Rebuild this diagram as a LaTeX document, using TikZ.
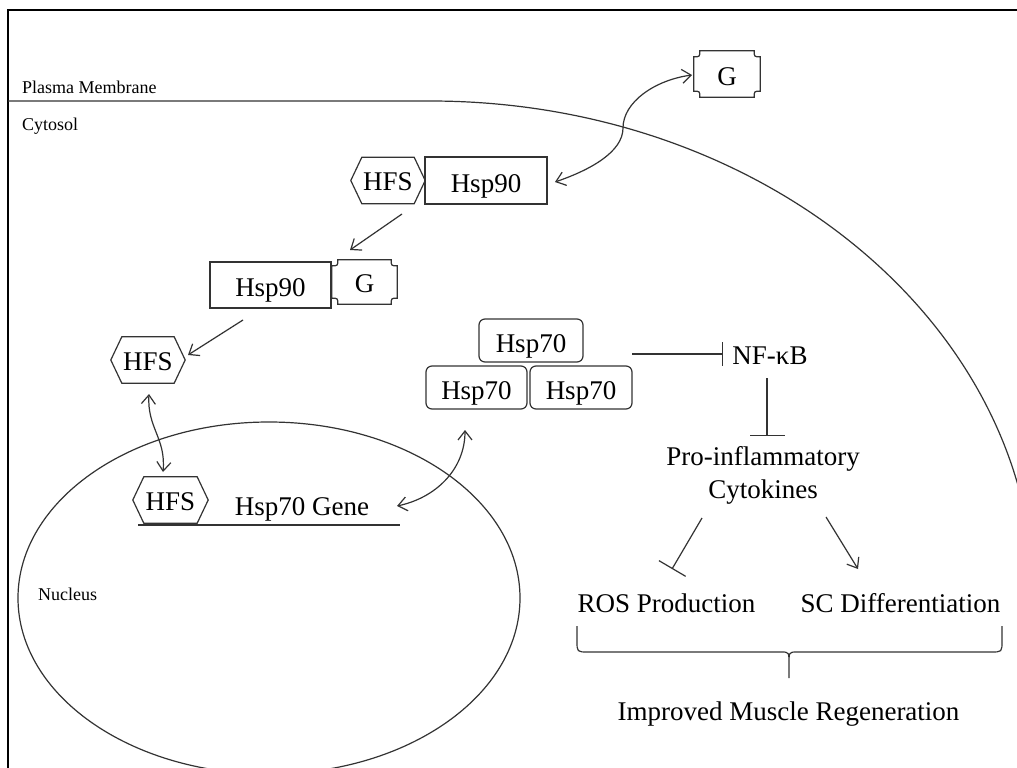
\documentclass[tikz,border=0pt]{standalone}
\usepackage{fontspec}
\setmainfont{Liberation Serif}
\usetikzlibrary{arrows.meta}
\tikzset{
  ln/.style={line width=1.2pt, draw=black!80},
  lbl/.style={font=\fontsize{27}{33}\selectfont, inner sep=0pt, text=black},
  smalllbl/.style={font=\fontsize{18}{20}\selectfont, inner sep=0pt, anchor=west, text=black},
  sqbox/.style={lbl, ln, draw, minimum width=#1, minimum height=47pt, text height=23pt, text depth=0pt},
  rndbox/.style={lbl, ln, draw, rounded corners=6pt, minimum width=#1, minimum height=43pt, text height=23pt, text depth=0pt},
  shapeonly/.style={lbl, text height=20pt, text depth=0pt},
  arr/.style={ln, -{Straight Barb[length=9pt,width=14pt,line width=1.2pt]}},
  darr/.style={ln, {Straight Barb[length=9pt,width=14pt,line width=1.2pt]}-{Straight Barb[length=9pt,width=14pt,line width=1.2pt]}},
  inh/.style={ln, -{Bar[width=#1,line width=1.2pt]}}
}
\newcommand\hexout[2]{%
  \draw[ln] (#1.west) -- ([xshift=#2]#1.north west) -- ([xshift=-#2]#1.north east)
    -- (#1.east) -- ([xshift=-#2]#1.south east) -- ([xshift=#2]#1.south west) -- cycle;}
\newcommand\concout[2]{%
  \draw[ln] ([xshift=#2]#1.north west) -- ([xshift=-#2]#1.north east)
    .. controls ([xshift=-#2,yshift=-#2]#1.north east) .. ([yshift=-#2]#1.north east)
    -- ([yshift=#2]#1.south east)
    .. controls ([xshift=-#2,yshift=#2]#1.south east) .. ([xshift=-#2]#1.south east)
    -- ([xshift=#2]#1.south west)
    .. controls ([xshift=#2,yshift=#2]#1.south west) .. ([yshift=#2]#1.south west)
    -- ([yshift=-#2]#1.north west)
    .. controls ([xshift=#2,yshift=-#2]#1.north west) .. ([xshift=#2]#1.north west) -- cycle;}
\begin{document}
\begin{tikzpicture}[x=1pt,y=-1pt]
\useasboundingbox (0,0) rectangle (1017,768);
\fill[white] (0,0) rectangle (1017,768);
% frame
\draw[line width=2.5pt, black] (8,768) -- (8,10) -- (1017,10);
% membrane and nucleus
\begin{scope}
  \clip (0,0) rectangle (1017,768);
  \draw[ln] (8,101) -- (430,101) .. controls (763.6,101) and (1034,324.4) .. (1034,600);
  \draw[ln] (269,598) ellipse [x radius=251, y radius=176];
\end{scope}
% small labels
\node[smalllbl] (pm) at (22,87) {Plasma Membrane};
\node[smalllbl] (cyt) at (22,126) {Cytosol};
\node[smalllbl] (nuc) at (38,594) {Nucleus};
% G outside
\node[shapeonly, minimum width=66pt, minimum height=46pt, text height=22pt] (gtop) at (727,74) {G};
\concout{gtop}{6pt}
% HFS + Hsp90
\node[sqbox=122pt] (h90a) at (486,180.5) {Hsp90};
\node[shapeonly, minimum width=74pt, minimum height=46pt] (hfs1) at (388,180.5) {HFS};
\hexout{hfs1}{11pt}
% Hsp90 + G
\node[sqbox=121pt, minimum height=46pt] (h90b) at (270.5,285) {Hsp90};
\node[shapeonly, minimum width=65pt, minimum height=44pt] (g2) at (364.5,282) {G};
\concout{g2}{6pt}
% HFS free
\node[shapeonly, minimum width=74pt, minimum height=46pt] (hfs2) at (148,360) {HFS};
\hexout{hfs2}{11pt}
% HFS on gene
\node[shapeonly, minimum width=75pt, minimum height=46pt] (hfs3) at (170.5,500) {HFS};
\hexout{hfs3}{11pt}
\node[lbl] (gene) at (302,509) {Hsp70 Gene};
\coordinate (gl1) at (138,525);
\coordinate (gl2) at (400,525);
\draw[ln] (gl1) -- (gl2);
% Hsp70 trimer
\node[rndbox=104pt] (h70t) at (531,340.5) {Hsp70};
\node[rndbox=101pt] (h70l) at (476.5,387.5) {Hsp70};
\node[rndbox=102pt] (h70r) at (581,387.5) {Hsp70};
% right side texts
\node[lbl] (nfkb) at (770,356) {NF-\char"03BA B};
\node[lbl, align=center] (pic) at (763,475) {Pro-inflammatory\\Cytokines};
\node[lbl] (ros) at (666.5,603) {ROS Production};
\node[lbl] (scd) at (900.5,603) {SC Differentiation};
\node[lbl] (imr) at (788.5,714) {Improved Muscle Regeneration};
% connector coordinates
\coordinate (a1s) at (402,214);
\coordinate (a1e) at (350,250);
\coordinate (a2s) at (243,320);
\coordinate (a2e) at (188,355);
\coordinate (c1a) at (555,182);
\coordinate (c1m) at (623,128);
\coordinate (c1b) at (692,75);
\coordinate (c2a) at (149,394);
\coordinate (c2b) at (163,472);
\coordinate (c3a) at (397,506);
\coordinate (c3b) at (465,430);
\coordinate (i1s) at (632,354);
\coordinate (i1e) at (723,354);
\coordinate (i2s) at (767,378);
\coordinate (i2e) at (767,436);
\coordinate (i3s) at (702,518);
\coordinate (i3e) at (672,569);
\coordinate (a3s) at (826,517);
\coordinate (a3e) at (858,569);
% connectors
\draw[arr] (a1s) -- (a1e);
\draw[arr] (a2s) -- (a2e);
\draw[darr] (c1a) .. controls (590,170) and (623,152) .. (c1m) .. controls (623,102) and (655,80) .. (c1b);
\draw[darr] (c2a) .. controls (147,428) and (166,438) .. (c2b);
\draw[darr] (c3a) .. controls (435,498) and (465,470) .. (c3b);
\draw[inh=24pt] (i1s) -- (i1e);
\draw[inh=35pt] (i2s) -- (i2e);
\draw[inh=31pt] (i3s) -- (i3e);
\draw[arr] (a3s) -- (a3e);
% brace
\draw[ln] (577,626) -- (577,641) .. controls (577,652) .. (588,652) -- (781,652)
  .. controls (789,652) .. (789,664) -- (789,678) -- (789,664)
  .. controls (789,652) .. (797,652) -- (991,652) .. controls (1002,652) .. (1002,641) -- (1002,626);
\end{tikzpicture}
\end{document}
